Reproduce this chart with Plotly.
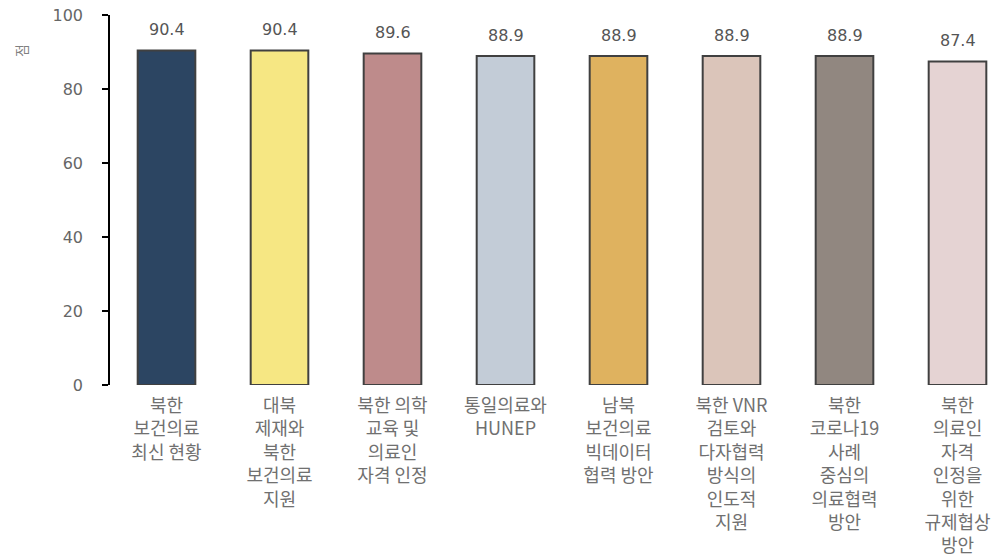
import plotly.graph_objects as go

# Survey scores per program (points)
categories = [
    "북한<br>보건의료<br>최신 현황",
    "대북<br>제재와<br>북한<br>보건의료<br>지원",
    "북한 의학<br>교육 및<br>의료인<br>자격 인정",
    "통일의료와<br>HUNEP",
    "남북<br>보건의료<br>빅데이터<br>협력 방안",
    "북한 VNR<br>검토와<br>다자협력<br>방식의<br>인도적<br>지원",
    "북한<br>코로나19<br>사례<br>중심의<br>의료협력<br>방안",
    "북한<br>의료인<br>자격<br>인정을<br>위한<br>규제협상<br>방안",
]
scores = [90.4, 90.4, 89.6, 88.9, 88.9, 88.9, 88.9, 87.4]
bar_colors = ["#2C4562", "#F6E783", "#BE8B8B", "#C3CCD7",
              "#DFB25F", "#DBC5BA", "#918780", "#E5D3D3"]
y_ticks = [0, 20, 40, 60, 80, 100]

W, H = 1002, 559
left, top, bottom = 110, 15, 174
slot_px = 113.0
x_positions = list(range(len(categories)))
x_max = -0.5 + (W - left) / slot_px

fig = go.Figure()
fig.add_trace(go.Bar(
    x=x_positions,
    y=scores,
    width=0.51,
    marker=dict(color=bar_colors, line=dict(color="#404040", width=2)),
    hoverinfo="skip",
))

# value labels above each bar
for xi, v in zip(x_positions, scores):
    fig.add_annotation(
        x=xi, y=v, text=f"{v:.1f}", showarrow=False,
        yshift=21, yanchor="middle", xanchor="center",
        font=dict(family="DejaVu Sans", size=16, color="#555555"),
    )

# y-axis unit label
fig.add_annotation(
    xref="paper", yref="paper", x=-0.10, y=0.905,
    xanchor="center", yanchor="middle",
    text="점", textangle=-90, showarrow=False,
    font=dict(family="Noto Sans CJK KR", size=14, color="#808080"),
)

fig.update_layout(
    width=W, height=H,
    margin=dict(l=left, r=0, t=top, b=bottom, pad=0),
    paper_bgcolor="white", plot_bgcolor="white",
    showlegend=False,
    xaxis=dict(
        range=[-0.5, x_max],
        tickmode="array", tickvals=x_positions, ticktext=categories,
        showline=False, showgrid=False, zeroline=False, ticks="",
        ticklabelstandoff=8,
        tickfont=dict(family="Noto Sans CJK KR", size=18, color="#707070"),
        fixedrange=True,
    ),
    yaxis=dict(
        range=[0, 100],
        tickmode="array", tickvals=y_ticks,
        showline=True, linecolor="#000000", linewidth=1.5,
        ticks="outside", ticklen=6, tickwidth=1.5, tickcolor="#000000",
        ticklabelstandoff=16,
        showgrid=False, zeroline=False,
        tickfont=dict(family="DejaVu Sans", size=16, color="#666666"),
        fixedrange=True,
    ),
)

fig.write_html("out.html")
